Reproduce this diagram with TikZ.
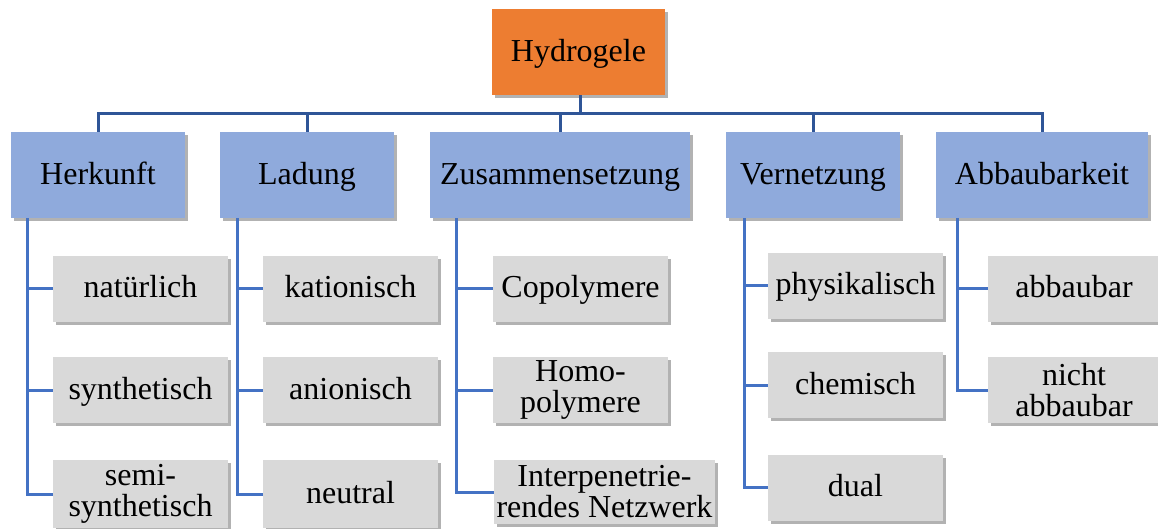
\documentclass[tikz,border=0pt]{standalone}
\usepackage{fontspec}
\setmainfont{Liberation Serif}
\usetikzlibrary{shadows}
\definecolor{orangebox}{HTML}{ED7D31}
\definecolor{bluebox}{HTML}{8FAADC}
\definecolor{graybox}{HTML}{D9D9D9}
\definecolor{busline}{HTML}{2F5597}
\definecolor{childline}{HTML}{4472C4}
\tikzset{
  shad/.style={drop shadow={shadow xshift=3pt,shadow yshift=-3pt,opacity=0.3,fill=black}},
  oneline/.style={text height=24pt,text depth=6pt},
  rootbox/.style={shad,oneline,fill=orangebox,minimum width=173pt,minimum height=86pt,inner sep=0pt,font=\fontsize{32}{32}\selectfont},
  catbox/.style={shad,oneline,fill=bluebox,minimum height=86pt,inner sep=0pt,font=\fontsize{32}{32}\selectfont},
  leafbox/.style={shad,fill=graybox,minimum width=175pt,minimum height=66pt,inner sep=0pt,align=center,font=\fontsize{32}{31}\selectfont},
  busconn/.style={draw=busline,line width=3pt},
  childconn/.style={draw=childline,line width=3pt}
}
\begin{document}
\begin{tikzpicture}[x=1pt,y=-1pt]
\useasboundingbox (0,0) rectangle (1158,528);
% root
\node[rootbox] (root) at (578.5,52) {Hydrogele};
% categories
\node[catbox,minimum width=174pt] (herk) at (98,175) {Herkunft};
\node[catbox,minimum width=174pt] (lad) at (307,175) {Ladung};
\node[catbox,minimum width=260pt] (zus) at (560,175) {Zusammensetzung};
\node[catbox,minimum width=174pt] (ver) at (813,175) {Vernetzung};
\node[catbox,minimum width=212pt] (abb) at (1042,175) {Abbaubarkeit};
% bus
\coordinate (busroot) at (580,113);
\coordinate (busL) at (98,113);
\coordinate (busR) at (1042,113);
\draw[busconn] (root.south -| busroot) -- (busroot);
\draw[busconn] (busL |- herk.north) -- (busL) -- (busR) -- (abb.north);
\draw[busconn] (lad.north) -- (lad.north |- busroot);
\draw[busconn] (zus.north) -- (zus.north |- busroot);
\draw[busconn] (ver.north) -- (ver.north |- busroot);
% leaves Herkunft
\node[leafbox,oneline] (nat) at (140.5,288.5) {natürlich};
\node[leafbox,oneline] (syn) at (140.5,390) {synthetisch};
\node[leafbox,minimum height=68pt] (semi) at (140.5,494) {semi-\\synthetisch};
% leaves Ladung
\node[leafbox,oneline] (kat) at (350.5,288.5) {kationisch};
\node[leafbox,oneline] (ani) at (350.5,390) {anionisch};
\node[leafbox,oneline,minimum height=68pt] (neu) at (350.5,494) {neutral};
% leaves Zusammensetzung
\node[leafbox,oneline] (cop) at (580.5,288.5) {Copolymere};
\node[leafbox] (hom) at (580.5,390) {Homo-\\polymere};
\node[leafbox,minimum width=221pt,minimum height=64pt] (ipn) at (604.5,492) {Interpenetrie-\\rendes Netzwerk};
% leaves Vernetzung
\node[leafbox,oneline] (phy) at (855.5,285.5) {physikalisch};
\node[leafbox,oneline] (che) at (855.5,385) {chemisch};
\node[leafbox,oneline] (dua) at (855.5,487.5) {dual};
% leaves Abbaubarkeit
\node[leafbox,oneline,minimum width=172pt] (abbl) at (1074,288.5) {abbaubar};
\node[leafbox,minimum width=172pt] (nabb) at (1074,390) {nicht\\abbaubar};
% child connectors
\coordinate (hk) at ([xshift=17pt]herk.south west);
\coordinate (ld) at ([xshift=18pt]lad.south west);
\coordinate (zs) at ([xshift=27pt]zus.south west);
\coordinate (vn) at ([xshift=19pt]ver.south west);
\coordinate (ab) at ([xshift=22pt]abb.south west);
\draw[childconn] (hk) |- (semi.west);
\draw[childconn] (hk |- nat.west) -- (nat.west);
\draw[childconn] (hk |- syn.west) -- (syn.west);
\draw[childconn] (ld) |- (neu.west);
\draw[childconn] (ld |- kat.west) -- (kat.west);
\draw[childconn] (ld |- ani.west) -- (ani.west);
\draw[childconn] (zs) |- (ipn.west);
\draw[childconn] (zs |- cop.west) -- (cop.west);
\draw[childconn] (zs |- hom.west) -- (hom.west);
\draw[childconn] (vn) |- (dua.west);
\draw[childconn] (vn |- phy.west) -- (phy.west);
\draw[childconn] (vn |- che.west) -- (che.west);
\draw[childconn] (ab) |- (nabb.west);
\draw[childconn] (ab |- abbl.west) -- (abbl.west);
\end{tikzpicture}
\end{document}
